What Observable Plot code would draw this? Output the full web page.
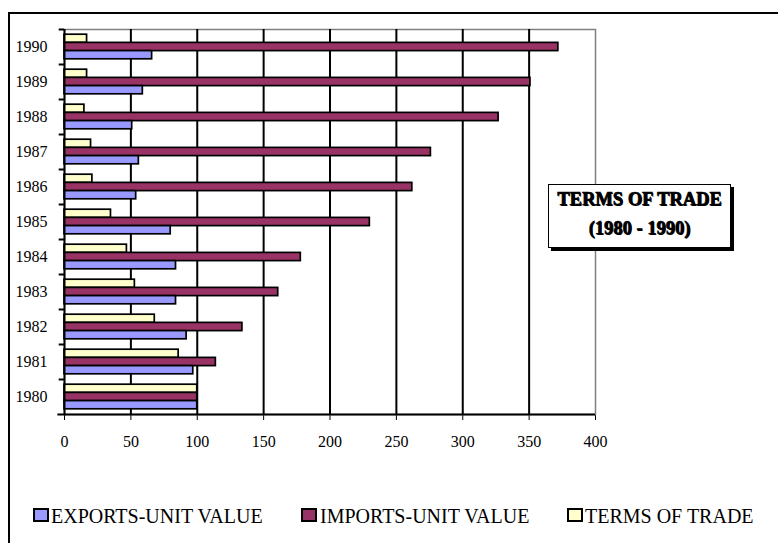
<!DOCTYPE html>
<html>
<head>
<meta charset="utf-8">
<script src="https://cdn.jsdelivr.net/npm/d3@7"></script>
<script src="https://cdn.jsdelivr.net/npm/@observablehq/plot@0.6"></script>
<style>
  body { margin: 0; background: #fff; }
  #wrap { position: relative; width: 778px; height: 545px; overflow: hidden;
          font-family: "Liberation Serif", "DejaVu Serif", serif; color: #000; }
  #wrap svg { position: absolute; left: 0; top: 0; }
  .frame { position: absolute; left: 8px; top: 12px; width: 800px; height: 531px;
           border-top: 2px solid #000; border-left: 2px solid #000; box-sizing: border-box; }
  .titlebox { position: absolute; left: 548px; top: 184px; width: 183px; height: 64px;
              box-sizing: border-box; border: 1.5px solid #000; background: #fff;
              box-shadow: 3px 3px 0 #000; text-align: center;
              font-weight: bold; font-size: 18.5px; line-height: 29px;
              -webkit-text-stroke: 0.5px #000; text-shadow: 0.7px 0.7px 0 #000; }
  .sw { position: absolute; width: 16px; height: 14px; box-sizing: border-box; border: 2px solid #000; }
  .lt { position: absolute; font-size: 20px; line-height: 20px; white-space: nowrap; }
</style>
</head>
<body>
<div id="wrap"></div>
<script>
// ---- data ----
const years = [1980, 1981, 1982, 1983, 1984, 1985, 1986, 1987, 1988, 1989, 1990];
const exportsUnitValue = [100, 97, 92, 84, 84, 80, 54, 56, 51, 59, 66];
const importsUnitValue = [100, 114, 134, 161, 178, 230, 262, 276, 327, 351, 372];
const termsOfTrade     = [100, 86, 68, 53, 47, 35, 21, 20, 15, 17, 17];

// series, top-to-bottom order inside each year band
const seriesNames  = ["TERMS OF TRADE", "IMPORTS-UNIT VALUE", "EXPORTS-UNIT VALUE"];
const seriesValues = [termsOfTrade, importsUnitValue, exportsUnitValue];
const seriesColors = ["#FFFFCC", "#993366", "#9999FF"];
const legendOrder  = ["EXPORTS-UNIT VALUE", "IMPORTS-UNIT VALUE", "TERMS OF TRADE"];

const xTicks = [0, 50, 100, 150, 200, 250, 300, 350, 400];
const gridTicks = [50, 100, 150, 200, 250, 300, 350];
const chartTitle = ["TERMS OF TRADE", "(1980 - 1990)"];

// ---- tidy table ----
const rows = [];
seriesNames.forEach((s, i) => years.forEach((y, j) => rows.push({year: y, series: s, value: seriesValues[i][j]})));

// ---- layout ----
const W = 778, H = 545;
const mL = 64, mR = 183, mT = 29, mB = 131;
const bw = (H - mT - mB) / years.length;
const barH = 8.2;
const inset = (bw - barH) / 2;

const bars = seriesNames.map((s, i) =>
  Plot.barX(rows.filter(d => d.series === s), {
    x: "value", y: "year", fill: "series",
    stroke: "#000", strokeWidth: 1.7,
    insetTop: inset, insetBottom: inset, dy: (i - 1) * barH
  })
);

const chart = Plot.plot({
  width: W, height: H,
  marginLeft: mL, marginRight: mR, marginTop: mT, marginBottom: mB,
  style: {background: "transparent", fontFamily: "Liberation Serif, DejaVu Serif, serif", fontSize: "16px", color: "#000"},
  x: {domain: [0, 400], ticks: xTicks, tickSize: 6, tickPadding: 15, label: null, tickFormat: d => `${d}`},
  y: {type: "band", domain: years.slice().reverse(), padding: 0, tickSize: 0, tickPadding: 17, label: null, tickFormat: d => `${d}`},
  color: {domain: seriesNames, range: seriesColors},
  marks: [
    Plot.frame({stroke: "#808080", strokeWidth: 1.5}),
    Plot.ruleX(gridTicks, {stroke: "#000", strokeWidth: 2}),
    ...bars,
    Plot.ruleX([0], {stroke: "#000", strokeWidth: 2}),
    Plot.ruleY(years, {y: d => d, x1: -4, x2: 0, dy: -bw / 2, stroke: "#000", strokeWidth: 2}),
    Plot.ruleY([years[0]], {y: d => d, x1: -5, x2: 400, dy: bw / 2, stroke: "#000", strokeWidth: 2})
  ]
});

const wrap = document.getElementById("wrap");
wrap.appendChild(chart);

// outer frame (left and top edges visible)
const fr = document.createElement("div");
fr.className = "frame";
wrap.appendChild(fr);

// title box
const tb = document.createElement("div");
tb.className = "titlebox";
tb.innerHTML = chartTitle.map(t => `<div>${t}</div>`).join("");
wrap.appendChild(tb);

// legend
const legendPos = [{sx: 33, tx: 51}, {sx: 301, tx: 320}, {sx: 567, tx: 585}];
legendOrder.forEach((name, k) => {
  const sw = document.createElement("div");
  sw.className = "sw";
  sw.style.left = legendPos[k].sx + "px";
  sw.style.top = "508px";
  sw.style.background = seriesColors[seriesNames.indexOf(name)];
  wrap.appendChild(sw);
  const lt = document.createElement("div");
  lt.className = "lt";
  lt.style.left = legendPos[k].tx + "px";
  lt.style.top = "506px";
  lt.textContent = name;
  wrap.appendChild(lt);
});
</script>
</body>
</html>
